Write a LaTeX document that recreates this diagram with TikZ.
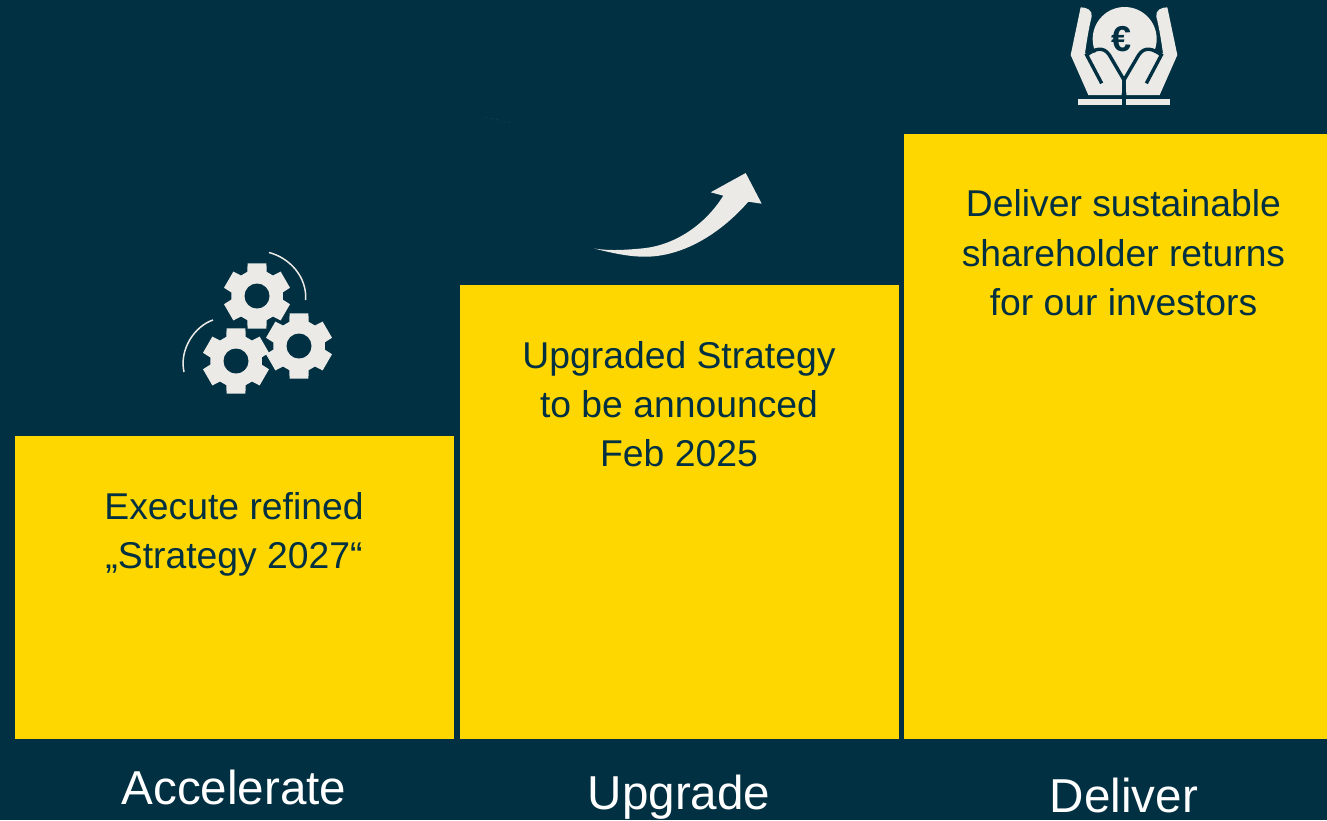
\documentclass[tikz,border=0pt]{standalone}
\usepackage{fontspec}
\setmainfont{Liberation Sans}
\definecolor{bgblue}{HTML}{003041}
\definecolor{stepyellow}{HTML}{FFD700}
\definecolor{iconlight}{HTML}{EBEAE7}
\definecolor{faintline}{HTML}{12404F}
\tikzset{
  stepbox/.style={fill=stepyellow,draw=none,inner sep=0pt,outer sep=0pt,anchor=north west},
  bodytext/.style={anchor=base,inner sep=0pt,text=bgblue,font=\fontsize{37.3pt}{42pt}\selectfont},
  titletext/.style={anchor=base,inner sep=0pt,text=white,font=\fontsize{47.6pt}{52pt}\selectfont},
  iconcut/.style={draw=bgblue,line width=3.4pt,line join=miter,fill=none},
}
\newcommand{\gearicon}[2]{%
  \begin{scope}[shift={(#1,#2)}]
    \fill[iconlight] (68:26)
      \foreach \a in {90,150,210,270,330,390} {
        -- (\a-22:26) -- (\a-16:34) -- (\a+16:34) -- (\a+22:26)
      } -- cycle;
    \fill[bgblue] (0,0) circle (12.5);
  \end{scope}}
\begin{document}
\begin{tikzpicture}[x=1pt,y=-1pt]
\useasboundingbox (0,0) rectangle (1327,820);
\fill[bgblue] (0,0) rectangle (1327,820);
% step boxes
\node[stepbox,minimum width=439pt,minimum height=303pt] (boxa) at (15,436) {};
\node[stepbox,minimum width=439pt,minimum height=454pt] (boxb) at (460,285) {};
\node[stepbox,minimum width=423pt,minimum height=605pt] (boxc) at (904,134) {};
% body text
\node[bodytext] (a1) at (234,519) {Execute refined};
\node[bodytext] (a2) at (234,568) {„Strategy 2027“};
\node[bodytext] (b1) at (679,368) {Upgraded Strategy};
\node[bodytext] (b2) at (679,417) {to be announced};
\node[bodytext] (b3) at (679,466) {Feb 2025};
\node[bodytext] (c1) at (1123.5,216) {Deliver sustainable};
\node[bodytext] (c2) at (1123.5,266) {shareholder returns};
\node[bodytext] (c3) at (1123.5,315) {for our investors};
% titles
\node[titletext] (ta) at (234,804) {Accelerate};
\node[titletext] (tb) at (679,809) {Upgrade};
\node[titletext] (tc) at (1124,812) {Deliver};
% gears
\gearicon{257}{296}
\gearicon{236}{361}
\gearicon{299}{346}
\draw[iconlight,line width=1.5pt] (269,252.5) .. controls (290,258) and (307,277) .. (305.7,300);
\draw[iconlight,line width=1.5pt] (213,320) .. controls (195,326) and (179,349) .. (184,372);
% arrow
\fill[iconlight] (594,248.5) .. controls (612,253) and (630,257) .. (646.7,256.7)
  .. controls (685,256) and (722,232) .. (748.3,201.7)
  -- (761.7,203.7) -- (745.7,173) -- (710.7,192.3) -- (723.3,195.7)
  .. controls (705,225) and (675,245) .. (643.3,248.3)
  .. controls (625,250) and (610,251) .. (594,248.5) -- cycle;
\draw[faintline,line width=0.5pt,dashed] (484,117) -- (510,122.5);
% hands and coin
\begin{scope}[shift={(1040,0)},scale=1/3]
  \fill[iconlight] (122,22) .. controls (140,22) and (158,30) .. (155,50)
    .. controls (146,85) and (140,125) .. (135,160)
    -- (250,150) -- (245,285) -- (145,285) -- (92,165) -- cycle;
  \fill[iconlight] (382,22) .. controls (364,22) and (346,30) .. (349,50)
    .. controls (358,85) and (364,125) .. (369,160)
    -- (254,150) -- (259,285) -- (359,285) -- (412,165) -- cycle;
  \fill[iconlight] (254,117) circle (96);
  \fill[iconlight] (165,165) -- (252,240) -- (340,165) -- (252,120) -- cycle;
  \draw[iconcut] (185,250) -- (140,165) .. controls (165,146) and (190,138) .. (208,165)
    -- (252,240) -- (252,290);
  \draw[iconcut] (319,250) -- (364,165) .. controls (339,146) and (314,138) .. (296,165)
    -- (252,240);
  \node[anchor=center,inner sep=0pt,text=bgblue,font=\bfseries\fontsize{36pt}{40pt}\selectfont] (euro) at (244,118) {€};
  \fill[iconlight] (113,298) rectangle (245,315);
  \fill[iconlight] (258,298) rectangle (390,315);
\end{scope}
\end{tikzpicture}
\end{document}
